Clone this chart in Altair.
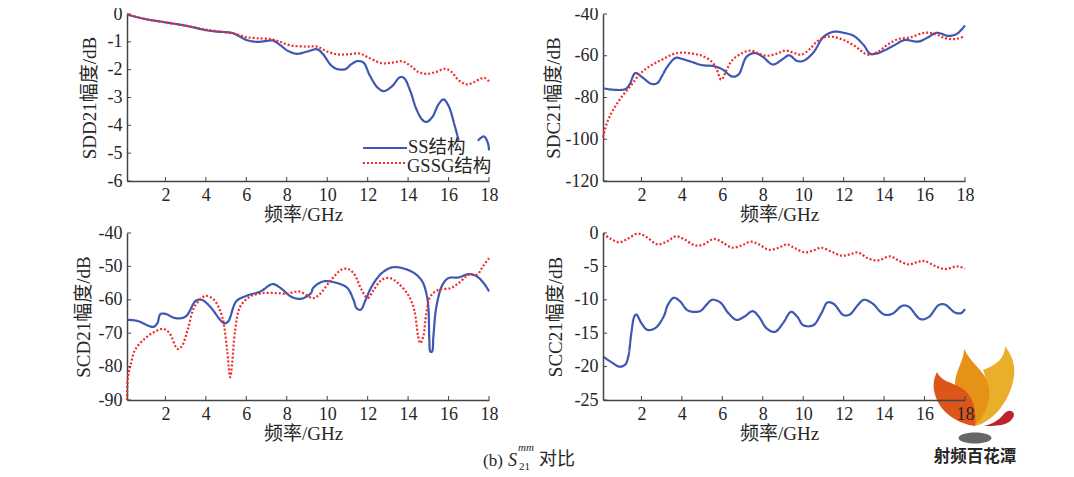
import altair as alt
import pandas as pd

SS_NAME = "SS结构"
GSSG_NAME = "GSSG结构"
XTICKS = [2, 4, 6, 8, 10, 12, 14, 16, 18]
FONT = "Liberation Serif, Noto Sans CJK SC"
CJK = "Noto Sans CJK SC"
TEXT = "#262626"
BLUE = "#3d57b3"
RED = "#f02a2a"

sdd_ss_x = [0.1,1,2,3,4,4.5,5.3,5.6,6,6.5,7,7.3,7.7,8,8.5,9,9.5,9.8,10.2,10.5,10.9,11.2,11.5,11.8,12.1,12.5,12.8,13.2,13.6,13.8,14.1,14.4,14.7,14.9,15.2,15.5,15.75,16,16.3,16.5,17,17.45,17.75,17.95,18]
sdd_ss_y = [-0.02,-0.18,-0.3,-0.42,-0.58,-0.63,-0.68,-0.78,-0.93,-1.0,-0.97,-0.95,-1.13,-1.3,-1.43,-1.35,-1.27,-1.45,-1.85,-1.98,-1.98,-1.8,-1.69,-1.75,-2.2,-2.65,-2.77,-2.6,-2.27,-2.3,-2.75,-3.4,-3.8,-3.88,-3.7,-3.25,-3.07,-3.3,-4.0,-4.55,None,-4.55,-4.4,-4.65,-4.9]
sdd_gs_x = [0.1,1,2,3,4,5,5.5,6,6.5,7.2,7.6,8.2,9,9.5,10,10.5,11,11.6,12,12.7,13.2,13.7,14.1,14.5,14.9,15.4,15.8,16.1,16.5,16.9,17.2,17.6,17.8,18]
sdd_gs_y = [-0.02,-0.18,-0.3,-0.42,-0.56,-0.66,-0.72,-0.83,-0.87,-0.9,-0.98,-1.13,-1.17,-1.17,-1.35,-1.45,-1.45,-1.42,-1.55,-1.77,-1.75,-1.7,-1.85,-2.08,-2.15,-2.08,-1.97,-2.05,-2.38,-2.53,-2.47,-2.32,-2.3,-2.42]

sdc_ss_x = [0.1,0.5,1.2,1.4,1.7,2,2.5,2.8,3,3.3,3.7,4,4.5,5,5.6,6,6.5,6.8,7.2,7.6,8,8.5,9,9.3,9.7,10,10.5,11,11.5,12,12.5,13,13.3,13.6,14,14.5,15,15.7,16.2,16.6,17.2,17.6,18]
sdc_ss_y = [-75.5,-76.2,-76,-74,-68.3,-70,-73.5,-73,-70,-65,-61,-61.5,-63,-64.5,-65,-66.5,-70,-69,-60.5,-58.7,-60.5,-64.2,-61.5,-59.8,-62.5,-62.5,-58.5,-51,-48.5,-49,-50.5,-55,-59,-59,-57.5,-55,-52.5,-53.2,-51,-49,-50.5,-49.5,-45.5]
sdc_gs_x = [0.1,0.3,0.6,1,1.5,2,2.5,3,3.5,4,4.5,5,5.5,5.7,5.95,6.2,6.5,7,7.4,7.8,8.2,8.7,9.1,9.5,9.9,10.3,10.7,11.1,11.5,12,12.5,13.2,13.7,14.2,14.7,15.3,16,16.5,17,17.5,18]
sdc_gs_y = [-99,-92,-86,-80,-74,-68,-64.5,-62,-59.5,-58.5,-59,-60,-63,-66,-71.5,-67,-62,-58.7,-57.5,-59,-60,-59,-57.5,-58.5,-59.5,-57,-53,-51,-51,-52.5,-55,-59.5,-58,-54.5,-52,-51.2,-49,-49.5,-51.5,-52,-50.7]

scd_ss_x = [0.1,0.6,1.4,1.6,1.75,2,2.5,3,3.5,3.8,4.2,4.9,5.1,5.5,6,6.7,7.3,7.7,8.2,8.7,9.2,9.3,9.8,10.5,11,11.3,11.45,11.65,11.9,12.2,12.7,13.2,13.7,14.3,14.7,14.9,15,15.05,15.1,15.18,15.25,15.4,15.7,16,16.5,17,17.4,17.8,18]
scd_ss_y = [-66,-66.3,-68.1,-67,-64.3,-64.2,-65.5,-65,-60.3,-60,-62,-67,-66.5,-60.5,-58.8,-57.5,-55.3,-56.5,-59,-59.7,-58,-56.5,-54.5,-55,-56.5,-60,-62.5,-63,-60,-56,-52,-50.3,-50.5,-52,-54.5,-58,-62,-72,-75.5,-75.5,-71,-62,-55.5,-53.5,-53.3,-52.3,-53,-55.5,-57.5]
scd_gs_x = [0.1,0.15,0.3,0.5,1,1.5,1.9,2.2,2.6,2.8,3.1,3.4,3.7,4,4.4,4.8,5.05,5.2,5.3,5.45,5.7,6.2,6.8,7.5,8,8.6,9.3,9.6,10.2,10.7,11,11.3,11.7,12,12.3,12.7,13.1,13.5,14,14.3,14.5,14.6,14.75,14.9,15.1,15.5,16.1,16.5,17,17.4,17.7,18]
scd_gs_y = [-90,-83,-79,-75,-71.5,-69.5,-68.7,-70,-74.7,-74,-69,-62.5,-60,-58.8,-60,-65,-75,-83.2,-79,-69,-62,-59,-58,-58,-58.2,-57.5,-59.5,-58.5,-54,-51,-50.7,-52,-57,-59.5,-57,-54,-53.5,-55,-58.5,-63,-71,-73,-71,-64,-59,-57,-56.5,-55,-52.5,-52.5,-50,-47.5]

scc_ss_x = [0.1,0.5,0.9,1.2,1.35,1.5,1.65,1.75,2,2.3,2.7,3.1,3.3,3.6,3.9,4.3,4.9,5.2,5.5,5.9,6.3,6.7,7.1,7.5,7.8,8.2,8.6,9,9.4,9.7,10,10.5,10.9,11.2,11.5,12,12.3,12.7,13,13.4,14,14.4,14.9,15.2,15.8,16.2,16.7,17,17.5,17.8,18]
scc_ss_y = [-18.5,-19.3,-20,-19.7,-18.5,-15,-12.5,-12.2,-13.5,-14.5,-14.2,-12.5,-10.8,-9.7,-10.2,-11.6,-11.7,-10.8,-10,-10.4,-12,-13,-12.5,-11.7,-12.5,-14.3,-14.8,-13.5,-11.8,-12.5,-13.8,-13.8,-12,-10.4,-10.6,-12.3,-12.2,-10.8,-10,-10.5,-12.2,-12.1,-10.9,-11,-12.9,-12.6,-10.8,-10.7,-11.9,-12,-11.4]
scc_gs_x = [0.1,0.5,0.9,1.3,1.8,2.2,2.8,3.3,3.7,4.1,4.6,5,5.6,6,6.5,7,7.4,7.8,8.3,8.8,9.2,9.6,10.1,10.5,10.9,11.4,11.9,12.3,12.7,13.2,13.7,14.3,14.7,15.2,15.7,16,16.5,17,17.6,18]
scc_gs_y = [-0.1,-0.9,-1.4,-0.9,-0.1,-0.5,-1.7,-1.2,-0.5,-0.9,-1.8,-1.8,-0.9,-1.4,-2.2,-1.8,-1.3,-1.7,-2.5,-2.2,-1.7,-2.3,-2.9,-2.6,-2.2,-2.8,-3.4,-3.2,-2.9,-3.8,-4.1,-3.5,-4.1,-4.7,-4.3,-4.2,-4.9,-5.4,-5,-5.3]

W, H = 362, 167
DASH = [2, 2]

LOGO = [
    ("M0,0 C15,-3 35,-22 39,-50 C41,-65 34,-74 30,-80 C30,-68 22,-61 8,-56 C15,-40 12,-15 0,0 Z", "#e9ae2a"),
    ("M0,0 C12,-12 17,-30 13,-42 C10,-55 -2,-60 -11,-77 C-11,-65 -20,-55 -20,-42 C-20,-25 -8,-10 0,0 Z", "#e59217"),
    ("M0,0 C2,-15 -2,-30 -12,-37 C-20,-43 -34,-44 -38,-54 C-42,-46 -43,-38 -38,-26 C-32,-12 -16,-2 0,0 Z", "#dc5519"),
    ("M9,0 C17,-2 23,-5 28,-11 C32,-16 37,-17 39,-12 C39,-6 32,-2 26,-1 C20,0 14,0 9,0 Z", "#bd2328"),
    ("M-16.5,12 A16.5,5.5 0 1 0 16.5,12 A16.5,5.5 0 1 0 -16.5,12 Z", "#666666"),
]


def frame(xs, ys, name):
    return pd.DataFrame({"f": xs, "v": ys, "s": name})


def panel(title, ss, gs, ydom, yticks, title_x, zindex=0):
    data = pd.concat([frame(*ss, SS_NAME), frame(*gs, GSSG_NAME)], ignore_index=True)
    xscale = alt.Scale(domain=[0.1, 18], nice=False, zero=False)
    yscale = alt.Scale(domain=ydom, nice=False, zero=False)
    x = alt.X("f:Q", scale=xscale,
              axis=alt.Axis(values=XTICKS, title="频率/GHz", ticks=False, grid=False, zindex=zindex,
                            labelExpr="'' + datum.value", labelPadding=5, labelFontSize=18, labelOverlap=False,
                            labelFlush=False,
                            titleFontSize=19, titleFontWeight="normal", titleX=W / 2 - 5, titleY=33,
                            titleBaseline="middle", titleAlign="center"))
    y = alt.Y("v:Q", scale=yscale,
              axis=alt.Axis(values=yticks, title=title, ticks=False, grid=False, zindex=zindex,
                            labelExpr="'' + datum.value", labelPadding=5, labelFontSize=18, labelOverlap=False,
                            titleFontSize=19, titleFontWeight="normal", titleX=title_x, titleY=H / 2,
                            titleBaseline="middle", titleAlign="center", titleAngle=270))
    color = alt.Color("s:N", scale=alt.Scale(domain=[SS_NAME, GSSG_NAME], range=[BLUE, RED]), legend=None)
    dash = alt.StrokeDash("s:N", scale=alt.Scale(domain=[SS_NAME, GSSG_NAME], range=[[1, 0], DASH]), legend=None)
    lines = alt.Chart(data).mark_line(strokeWidth=2.2, interpolate="catmull-rom").encode(
        x=x, y=y, color=color, strokeDash=dash, order=alt.Order("s:N"))
    xt = alt.Chart(pd.DataFrame({"f": XTICKS})).mark_rule(color="#444444", strokeWidth=1).encode(
        x=x, y=alt.value(H), y2=alt.value(H - 4))
    yt = alt.Chart(pd.DataFrame({"v": yticks})).mark_rule(color="#444444", strokeWidth=1).encode(
        y=y, x=alt.value(0), x2=alt.value(4))
    return [lines, xt, yt]


def note(txt, x, y, size, font=FONT, style="normal", weight="normal", align="left"):
    return alt.Chart(pd.DataFrame({"t": [txt]})).mark_text(
        font=font, fontSize=size, fontStyle=style, fontWeight=weight, align=align,
        baseline="middle", color=TEXT).encode(x=alt.value(x), y=alt.value(y), text="t:N")


def key(col, y, dash=None):
    kw = {"strokeDash": dash} if dash else {}
    return alt.Chart(pd.DataFrame({"k": [0]})).mark_rule(color=col, strokeWidth=2.2, **kw).encode(
        x=alt.value(236), x2=alt.value(280), y=alt.value(y))


legend_marks = [key(BLUE, 134), key(RED, 149, DASH), note(SS_NAME, 281, 133, 18.5), note(GSSG_NAME, 280, 152, 18.5)]

p1 = alt.layer(*panel("SDD21幅度/dB", (sdd_ss_x, sdd_ss_y), (sdd_gs_x, sdd_gs_y), [-6, 0],
                      [0, -1, -2, -3, -4, -5, -6], -38), *legend_marks).properties(width=W, height=H)
p2 = alt.layer(*panel("SDC21幅度/dB", (sdc_ss_x, sdc_ss_y), (sdc_gs_x, sdc_gs_y), [-120, -40],
                      [-40, -60, -80, -100, -120], -50)).properties(width=W, height=H)

caption = [
    note("(b)", 356, 228, 17),
    note("S", 381, 228, 18, style="italic"),
    note("21", 392, 234, 11),
    note("mm", 391, 215, 11, style="italic"),
    note("对比", 412, 227, 18, font=CJK),
]
p3 = alt.layer(*panel("SCD21幅度/dB", (scd_ss_x, scd_ss_y), (scd_gs_x, scd_gs_y), [-90, -40],
                      [-40, -50, -60, -70, -80, -90], -44), *caption).properties(width=W, height=H)

logo = [
    alt.Chart(pd.DataFrame({"k": [0]})).mark_point(shape=path, filled=True, size=4, color=col, opacity=1,
                                                   strokeWidth=0).encode(x=alt.value(372), y=alt.value(193))
    for path, col in LOGO
]
logo_text = note("射频百花潭", 372, 224, 16.5, font=CJK, weight="bold", align="center")
p4 = alt.layer(*logo, *panel("SCC21幅度/dB", (scc_ss_x, scc_ss_y), (scc_gs_x, scc_gs_y), [-25, 0],
                             [0, -5, -10, -15, -20, -25], -48, zindex=1), logo_text).properties(width=W, height=H)

chart = alt.concat(p1, p2, p3, p4, columns=2, spacing=alt.RowColnumber(column=114, row=52), bounds="flush").properties(
    padding={"left": 66, "top": -3, "right": 0, "bottom": 0}, background="white"
).resolve_scale(color="independent", strokeDash="independent", x="independent", y="independent").configure_view(stroke=None).configure_axis(
    labelFont=FONT, titleFont=FONT, labelColor=TEXT, titleColor=TEXT, domainColor="#444444", domainWidth=1.5
)

chart.save("out.html", embed_options={"renderer": "svg", "actions": False})
